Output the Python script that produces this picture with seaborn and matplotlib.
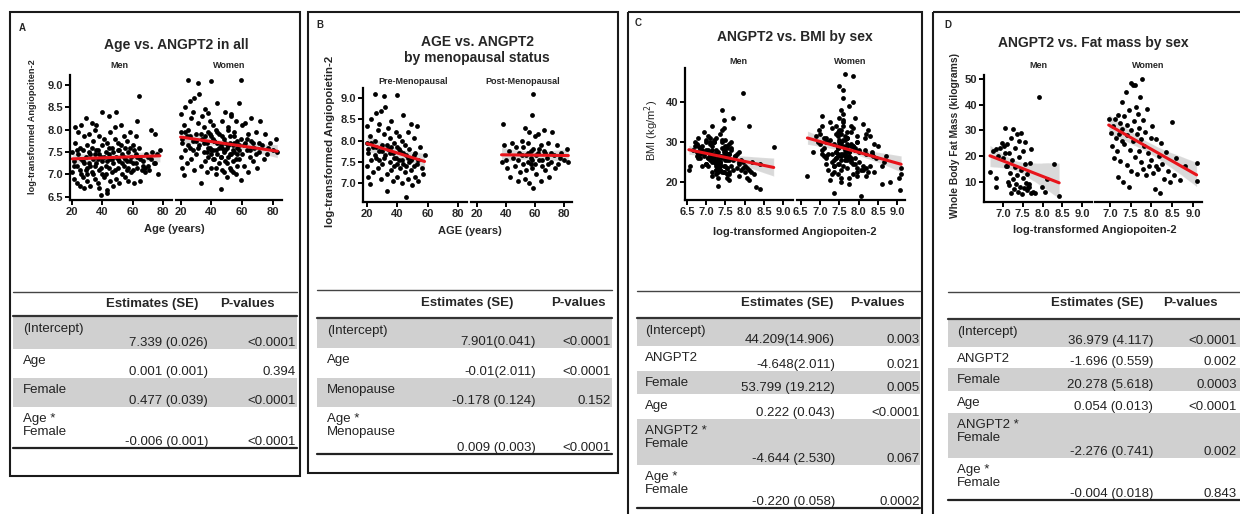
import matplotlib
matplotlib.use("Agg")
import matplotlib.pyplot as plt
from matplotlib.patches import Rectangle
import numpy as np
import seaborn as sns

# ---- data ----
men_age = [20, 20, 21, 21, 22, 22, 23, 23, 24, 24,
           25, 25, 25, 26, 26, 27, 27, 28, 28, 28,
           29, 29, 30, 30, 30, 30, 31, 31, 32, 32,
           33, 33, 33, 34, 34, 35, 35, 35, 36, 36,
           37, 37, 38, 38, 38, 39, 39, 40, 40, 40,
           40, 41, 41, 42, 42, 43, 43, 43, 44, 44,
           44, 45, 45, 45, 46, 46, 47, 47, 48, 48,
           49, 49, 49, 50, 50, 50, 51, 51, 52, 52,
           53, 53, 54, 54, 55, 55, 55, 56, 56, 57,
           57, 58, 58, 59, 59, 60, 60, 61, 61, 62,
           62, 63, 63, 64, 64, 65, 65, 66, 67, 67,
           68, 68, 69, 70, 70, 71, 72, 72, 73, 74,
           75, 75, 76, 77, 78,
           21, 23, 26, 27, 29, 31, 32, 34, 35, 36,
           37, 38, 39, 41, 42, 43, 44, 46, 47, 48,
           50, 51, 53, 54, 56, 57, 58, 60, 62, 63]
men_ang2 = [7.50, 7.05, 7.30, 6.90, 7.70, 8.05, 7.20, 6.80, 7.45, 7.95,
            7.10, 7.60, 6.75, 7.35, 8.10, 6.95, 7.55, 7.25, 7.85, 6.70,
            7.40, 8.25, 7.15, 7.65, 6.85, 7.00, 7.50, 7.90, 7.20, 6.75,
            7.60, 8.15, 7.05, 7.35, 7.75, 6.90, 7.45, 8.00, 7.25, 8.10,
            6.80, 7.55, 7.10, 6.70, 7.85, 6.55, 7.40, 8.40, 7.00, 7.65,
            7.30, 6.95, 7.80, 7.20, 7.50, 6.58, 6.65, 7.70, 8.30, 7.15,
            7.45, 6.85, 7.95, 7.35, 7.60, 7.05, 7.25, 6.75, 7.80, 8.05,
            8.40, 7.40, 6.90, 7.55, 7.15, 7.70, 7.30, 6.80, 7.65, 8.10,
            7.00, 7.45, 7.85, 7.20, 6.95, 7.60, 7.35, 7.75, 7.10, 7.50,
            6.85, 7.30, 7.95, 7.40, 7.05, 7.65, 7.25, 7.55, 6.80, 7.45,
            7.85, 7.15, 8.20, 8.75, 7.60, 7.35, 6.85, 7.10, 7.30, 7.20,
            7.05, 7.15, 7.45, 7.20, 7.40, 7.10, 8.00, 7.35, 7.50, 7.25,
            7.90, 7.25, 7.45, 7.00, 7.55,
            7.20, 7.55, 7.00, 7.30, 7.10, 7.25, 7.45, 7.00, 7.20, 7.55,
            7.35, 7.45, 7.15, 7.40, 7.00, 7.30, 7.60, 7.35, 7.50, 7.10,
            7.35, 7.55, 7.25, 7.40, 7.30, 7.15, 7.60, 7.10, 7.25, 7.40]
men_bmi = [27.5, 24.0, 25.5, 28.0, 23.0, 21.0, 30.0, 27.0, 22.5, 25.0,
           31.0, 27.0, 29.5, 24.5, 23.0, 26.5, 29.0, 22.0, 27.5, 29.0,
           33.0, 22.0, 26.0, 24.0, 28.5, 30.0, 30.5, 25.5, 27.0, 27.5,
           22.5, 22.5, 31.5, 25.0, 26.5, 24.0, 35.5, 24.0, 23.0, 34.0,
           29.0, 21.0, 26.5, 30.0, 24.5, 23.0, 38.0, 18.3, 28.0, 28.5,
           19.0, 27.0, 23.5, 30.5, 25.5, 24.0, 28.0, 36.0, 18.8, 22.5,
           33.5, 26.0, 23.5, 24.0, 20.5, 28.0, 31.0, 26.5, 27.0, 23.5,
           24.5, 26.5, 29.0, 22.0, 34.0, 25.5, 27.5, 31.0, 30.0, 20.5,
           24.5, 28.5, 21.5, 25.0, 32.5, 27.0, 23.0, 26.5, 29.5, 24.0,
           27.0, 22.5, 42.3, 30.0, 26.0, 28.0, 24.5, 23.5, 26.0, 27.5,
           25.0, 29.0, 25.0, 28.8, 22.0, 26.5, 28.5, 27.0, 23.0, 30.0,
           26.0, 21.5, 28.0, 25.5, 22.5, 27.0, 22.5, 24.0, 29.0, 25.0,
           23.0, 23.0, 26.5, 24.5, 25.5,
           26.0, 28.5, 27.5, 23.5, 25.5, 28.0, 24.0, 30.5, 26.5, 27.0,
           32.0, 22.5, 25.0, 28.5, 24.5, 26.0, 29.5, 23.0, 27.5, 30.0,
           25.0, 23.5, 27.0, 30.5, 21.0, 28.0, 25.5, 27.5, 24.0, 26.0]

pre_age = [20, 20, 20, 21, 21, 22, 22, 23, 23, 24,
           24, 25, 25, 26, 26, 27, 27, 28, 28, 29,
           29, 30, 30, 31, 31, 32, 32, 33, 33, 34,
           34, 35, 35, 36, 36, 37, 37, 38, 38, 39,
           39, 40, 40, 40, 41, 41, 42, 42, 43, 43,
           44, 44, 45, 45, 46, 46, 47, 47, 48, 48,
           49, 49, 50, 50, 51, 51, 52, 52, 53, 54,
           54, 55, 56, 57, 58,
           21, 23, 25, 26, 28, 30, 31, 33, 35, 36,
           38, 40, 41, 43, 44, 46, 47, 49, 51, 53]
pre_ang2 = [7.95, 7.40, 8.35, 7.70, 7.15, 6.98, 8.10, 7.55, 8.50, 7.85,
            7.25, 9.10, 8.00, 7.60, 8.65, 7.35, 8.25, 7.75, 8.40, 8.70,
            7.10, 7.90, 7.45, 9.05, 8.15, 8.80, 7.65, 7.20, 6.82, 8.30,
            7.80, 7.50, 8.05, 7.30, 8.45, 7.70, 7.05, 7.95, 7.40, 8.20,
            7.60, 9.08, 7.85, 7.15, 7.55, 8.10, 7.35, 7.75, 7.00, 8.00,
            8.60, 7.45, 7.25, 7.90, 6.67, 7.65, 7.10, 8.20, 7.50, 7.80,
            7.30, 8.40, 7.60, 6.95, 8.05, 7.40, 7.70, 7.15, 8.35, 7.55,
            7.05, 7.85, 7.35, 7.20, 7.65,
            7.80, 7.95, 7.65, 7.85, 7.55, 7.75, 7.60, 7.90, 7.70, 7.85,
            7.60, 7.45, 7.80, 7.55, 7.70, 7.40, 7.60, 7.55, 7.65, 7.45]
pre_bmi = [30.0, 34.0, 27.0, 32.5, 26.0, 33.0, 24.0, 38.0, 29.0, 22.0,
           35.0, 23.5, 27.5, 41.0, 25.0, 29.5, 33.0, 19.5, 22.5, 26.5,
           31.0, 36.0, 24.5, 21.0, 28.0, 20.0, 30.5, 27.0, 27.5, 31.5,
           25.5, 44.0, 23.0, 33.5, 26.0, 29.0, 36.5, 21.5, 27.5, 32.0,
           24.0, 18.0, 46.5, 30.0, 26.5, 34.5, 22.5, 39.0, 32.0, 28.0,
           24.0, 31.5, 20.5, 26.0, 21.5, 47.0, 28.5, 23.5, 33.0, 25.0,
           27.0, 29.5, 37.0, 30.0, 16.6, 26.0, 31.0, 24.5, 27.5, 21.0,
           34.0, 29.0, 25.5, 23.0, 28.0,
           29.0, 31.5, 27.0, 33.5, 30.0, 26.5, 35.0, 28.0, 31.0, 24.5,
           30.5, 28.5, 32.5, 25.5, 29.5, 27.5, 34.0, 30.0, 26.5, 29.0]

post_age = [37, 38, 39, 40, 41, 42, 43, 44, 45, 46,
            47, 48, 49, 50, 51, 52, 52, 53, 53, 54,
            54, 55, 55, 56, 56, 57, 57, 58, 58, 59,
            59, 59, 60, 60, 61, 62, 62, 63, 64, 64,
            65, 66, 66, 67, 68, 69, 70, 71, 72, 73,
            74, 75, 76, 78, 80, 82, 83,
            48, 51, 55, 57, 58, 61, 63, 65, 67, 69, 71, 77]
post_ang2 = [7.50, 8.38, 7.90, 7.55, 7.35, 7.75, 7.15, 7.95, 7.60, 7.40,
             7.85, 7.05, 7.70, 7.25, 8.00, 7.45, 7.85, 7.10, 8.30, 7.65,
             7.30, 7.95, 7.50, 8.20, 7.00, 7.60, 7.75, 8.60, 7.35, 9.10,
             6.88, 7.80, 7.45, 8.10, 7.20, 7.70, 8.15, 7.55, 7.05, 7.90,
             7.40, 7.75, 8.25, 7.30, 7.60, 7.95, 7.15, 7.50, 8.20, 7.65,
             7.35, 7.90, 7.45, 7.70, 7.55, 7.80, 7.50,
             7.55, 7.65, 7.70, 7.45, 7.55, 7.65, 7.80, 7.55, 7.70, 7.45, 7.70, 7.60]
post_bmi = [30.0, 26.5, 28.0, 33.0, 24.0, 27.5, 31.0, 22.5, 35.5, 26.0,
            29.0, 27.0, 23.5, 30.5, 25.0, 32.5, 40.0, 26.5, 24.0, 28.5,
            22.0, 30.0, 36.0, 27.0, 29.5, 43.0, 21.0, 19.5, 17.2, 22.0,
            31.5, 34.0, 27.0, 23.0, 30.0, 26.0, 31.0, 20.0, 28.0, 24.5,
            32.0, 27.5, 22.5, 25.0, 29.0, 23.5, 26.5, 30.5, 21.5, 27.0,
            24.0, 28.5, 22.0, 25.5, 23.0, 26.0, 24.5,
            29.0, 31.5, 26.0, 28.5, 32.0, 25.5, 29.5, 27.0, 31.0, 26.5, 28.0, 27.0]

fm_men_ang2 = [6.67, 6.75, 6.82, 6.82, 6.82, 6.88, 6.92, 6.97, 7.00, 7.02,
               7.05, 7.05, 7.08, 7.10, 7.10, 7.12, 7.15, 7.15, 7.18, 7.20,
               7.20, 7.22, 7.25, 7.25, 7.28, 7.30, 7.30, 7.32, 7.35, 7.35,
               7.38, 7.40, 7.40, 7.42, 7.45, 7.45, 7.48, 7.50, 7.50, 7.52,
               7.55, 7.55, 7.58, 7.60, 7.60, 7.62, 7.65, 7.65, 7.68, 7.70,
               7.72, 7.75, 7.80, 7.92, 7.98, 8.06, 8.10, 8.30, 8.42]
fm_men_fat = [13.6, 22.0, 22.6, 11.4, 8.0, 20.0, 23.0, 25.2, 19.0, 24.0,
              21.0, 31.0, 16.0, 16.0, 24.5, 10.0, 21.0, 8.5, 13.5, 27.0,
              5.5, 18.5, 11.0, 30.7, 7.0, 15.5, 23.0, 9.0, 28.6, 12.5,
              6.0, 19.5, 26.0, 8.0, 14.5, 29.0, 5.0, 11.5, 22.0, 7.5,
              17.0, 25.5, 9.5, 6.5, 13.0, 8.0, 8.0, 9.0, 17.3, 5.5,
              22.7, 6.0, 5.5, 43.0, 8.0, 6.0, 11.0, 17.0, 4.2]
fm_women_ang2 = [6.97, 7.02, 7.05, 7.08, 7.10, 7.12, 7.15, 7.18, 7.20, 7.20,
                 7.22, 7.25, 7.25, 7.28, 7.30, 7.30, 7.32, 7.35, 7.35, 7.38,
                 7.40, 7.40, 7.42, 7.45, 7.45, 7.48, 7.50, 7.50, 7.52, 7.55,
                 7.55, 7.58, 7.60, 7.60, 7.62, 7.65, 7.65, 7.68, 7.70, 7.70,
                 7.72, 7.75, 7.75, 7.78, 7.80, 7.80, 7.82, 7.85, 7.88, 7.90,
                 7.92, 7.95, 7.98, 8.00, 8.02, 8.05, 8.08, 8.10, 8.12, 8.15,
                 8.18, 8.20, 8.22, 8.25, 8.30, 8.35, 8.40, 8.45, 8.49, 8.55,
                 8.60, 8.70, 8.80, 9.09, 9.09]
fm_women_fat = [34.5, 29.0, 24.0, 31.5, 19.0, 34.5, 27.0, 22.0, 11.7, 36.0,
                28.5, 33.0, 18.0, 26.0, 41.0, 30.5, 10.0, 35.5, 24.5, 45.0,
                28.0, 16.5, 32.0, 7.9, 38.0, 22.5, 30.0, 14.0, 48.5, 47.5,
                26.0, 33.5, 47.6, 19.5, 39.0, 28.5, 13.0, 36.5, 22.0, 31.0,
                43.0, 17.5, 26.5, 49.9, 34.0, 15.0, 24.0, 29.5, 12.5, 38.5,
                21.0, 16.0, 27.0, 18.5, 31.5, 13.5, 7.2, 16.0, 26.5, 15.0,
                20.0, 5.7, 25.0, 17.0, 11.0, 21.5, 14.0, 10.0, 33.1, 12.5,
                19.0, 10.5, 16.0, 17.3, 10.3]

age_ticks = [20, 40, 60, 80]
ang_y_ticks_a = [6.5, 7.0, 7.5, 8.0, 8.5, 9.0]
ang_y_ticks_b = [7.0, 7.5, 8.0, 8.5, 9.0]
ang_x_ticks_c = [6.5, 7.0, 7.5, 8.0, 8.5, 9.0]
ang_x_ticks_d = [7.0, 7.5, 8.0, 8.5, 9.0]
bmi_ticks = [20, 30, 40]
fat_ticks = [10, 20, 30, 40, 50]

a_terms = ["(Intercept)", "Age", "Female", "Age *\nFemale"]
a_est = ["7.339 (0.026)", "0.001 (0.001)", "0.477 (0.039)", "-0.006 (0.001)"]
a_p = ["<0.0001", "0.394", "<0.0001", "<0.0001"]
b_terms = ["(Intercept)", "Age", "Menopause", "Age *\nMenopause"]
b_est = ["7.901(0.041)", "-0.01(2.011)", "-0.178 (0.124)", "0.009 (0.003)"]
b_p = ["<0.0001", "<0.0001", "0.152", "<0.0001"]
c_terms = ["(Intercept)", "ANGPT2", "Female", "Age", "ANGPT2 *\nFemale", "Age *\nFemale"]
c_est = ["44.209(14.906)", "-4.648(2.011)", "53.799 (19.212)", "0.222 (0.043)",
         "-4.644 (2.530)", "-0.220 (0.058)"]
c_p = ["0.003", "0.021", "0.005", "<0.0001", "0.067", "0.0002"]
d_terms = ["(Intercept)", "ANGPT2", "Female", "Age", "ANGPT2 *\nFemale", "Age *\nFemale"]
d_est = ["36.979 (4.117)", "-1.696 (0.559)", "20.278 (5.618)", "0.054 (0.013)",
         "-2.276 (0.741)", "-0.004 (0.018)"]
d_p = ["<0.0001", "0.002", "0.0003", "<0.0001", "0.002", "0.843"]

women_age = pre_age + post_age
women_ang2 = pre_ang2 + post_ang2
women_bmi = pre_bmi + post_bmi

# ---- figure ----
sns.set_style("ticks")
plt.rcParams["font.family"] = ["Liberation Sans", "DejaVu Sans"]

W, H = 1240, 514
fig = plt.figure(figsize=(W / 100, H / 100), dpi=100)

# pixel overlay for boxes, titles and tables
ov = fig.add_axes([0, 0, 1, 1], zorder=-1)
ov.set_xlim(0, W)
ov.set_ylim(H, 0)
ov.axis("off")


def px_axes(l, t, r, b):
    return fig.add_axes([l / W, 1 - b / H, (r - l) / W, (b - t) / H])


def scatter_fit(ax, x, y, xlim, ylim, xticks, xfmt, yticks=None, yfmt=None):
    x = np.asarray(x, float)
    y = np.asarray(y, float)
    sns.regplot(x=x, y=y, ax=ax, scatter=False, color="black", ci=95, seed=3,
                line_kws={"lw": 0})
    sns.regplot(x=x, y=y, ax=ax, ci=None, color="black",
                scatter_kws={"s": 12, "linewidths": 0, "alpha": 1},
                line_kws={"color": "#e8141b", "lw": 2.2})
    ax.set_xlim(*xlim)
    ax.set_ylim(*ylim)
    ax.set_xticks(xticks, [xfmt.format(v) for v in xticks])
    if yticks is not None:
        ax.set_yticks(yticks, [yfmt.format(v) for v in yticks])
        sns.despine(ax=ax)
    else:
        sns.despine(ax=ax, left=True)
        ax.tick_params(axis="y", left=False, labelleft=False)
    for s in ["left", "bottom"]:
        ax.spines[s].set_linewidth(1.6)
        ax.spines[s].set_color("black")
    ax.tick_params(width=1.4, length=3.5, labelsize=8, pad=1.5, color="black")
    plt.setp(ax.get_xticklabels() + ax.get_yticklabels(), fontweight="bold")
    ax.set_xlabel("")
    ax.set_ylabel("")
    ax.patch.set_alpha(0)


def panel_box(l, t, r, b):
    ov.add_patch(Rectangle((l, t), r - l, b - t, fill=False, lw=1.5, ec="#1a1a1a"))


def draw_table(x0, x1, y_top, y_head, y_hline, edges, terms, est, pv, xs):
    lab_x, est_r, p_r, head_e, head_p = xs
    ov.plot([x0, x1], [y_top, y_top], color="#444444", lw=1.0)
    ov.text(head_e, y_head, "Estimates (SE)", ha="center", va="center",
            fontsize=9.5, fontweight="bold")
    ov.text(head_p, y_head, "P-values", ha="center", va="center",
            fontsize=9.5, fontweight="bold")
    ov.plot([x0, x1], [y_hline, y_hline], color="#333333", lw=1.6)
    for i in range(len(terms)):
        t, b = edges[i], edges[i + 1]
        if i % 2 == 0:
            ov.add_patch(Rectangle((x0, t), x1 - x0, b - t, color="#d0d0d0", lw=0))
        ov.text(lab_x, t + 6, terms[i], ha="left", va="top", fontsize=9.5,
                linespacing=1.15, color="#222222")
        ov.text(est_r, b - 3, est[i], ha="right", va="baseline", fontsize=9.5,
                color="#222222")
        ov.text(p_r, b - 3, pv[i], ha="right", va="baseline", fontsize=9.5,
                color="#222222")
    ov.plot([x0, x1], [edges[-1], edges[-1]], color="#222222", lw=1.6)


# panel frames
panel_box(10, 12, 300, 476)
panel_box(308, 12, 618, 473)
panel_box(628, 12, 922, 540)
panel_box(933, 12, 1270, 540)

# ---- A ----
ov.text(22, 28, "A", fontsize=7, fontweight="bold", ha="center", va="center")
ov.text(176, 45, "Age vs. ANGPT2 in all", fontsize=10, fontweight="bold",
        ha="center", va="center")
ov.text(119, 66, "Men", fontsize=6.5, fontweight="bold", ha="center", va="center")
ov.text(229, 66, "Women", fontsize=6.5, fontweight="bold", ha="center", va="center")
ov.text(33, 127, "log-transformed Angiopoiten-2", fontsize=6.6, fontweight="bold",
        rotation=90, ha="center", va="center")
ov.text(174, 229, "Age (years)", fontsize=8, fontweight="bold", ha="center", va="center")
ax = px_axes(70, 75, 172, 200)
scatter_fit(ax, men_age, men_ang2, (18.5, 86), (6.43, 9.22), age_ticks, "{:d}",
            ang_y_ticks_a, "{:.1f}")
ax = px_axes(176, 75, 282, 200)
scatter_fit(ax, women_age, women_ang2, (17, 86), (6.43, 9.22), age_ticks, "{:d}")
draw_table(13, 297, 292, 304, 316, [317, 349, 378, 407, 448],
           a_terms, a_est, a_p, (23, 208, 296, 152, 247))

# ---- B ----
ov.text(320, 25, "B", fontsize=7, fontweight="bold", ha="center", va="center")
ov.text(477, 50, "AGE vs. ANGPT2\nby menopausal status", fontsize=10,
        fontweight="bold", ha="center", va="center", linespacing=1.1)
ov.text(413, 82, "Pre-Menopausal", fontsize=6.5, fontweight="bold", ha="center", va="center")
ov.text(523, 82, "Post-Menopausal", fontsize=6.5, fontweight="bold", ha="center", va="center")
ov.text(330, 141, "log-transformed Angiopoietin-2", fontsize=8.2, fontweight="bold",
        rotation=90, ha="center", va="center")
ov.text(470, 231, "AGE (years)", fontsize=8, fontweight="bold", ha="center", va="center")
ax = px_axes(363, 88, 467, 202)
scatter_fit(ax, pre_age, pre_ang2, (17.4, 86), (6.55, 9.24), age_ticks, "{:d}",
            ang_y_ticks_b, "{:.1f}")
ax = px_axes(471, 88, 572, 202)
scatter_fit(ax, post_age, post_ang2, (16, 85.5), (6.55, 9.24), age_ticks, "{:d}")
draw_table(317, 612, 290, 303, 318, [319, 348, 378, 407, 454],
           b_terms, b_est, b_p, (327, 536, 611, 467, 578))

# ---- C ----
ov.text(638, 23, "C", fontsize=7, fontweight="bold", ha="center", va="center")
ov.text(795, 37, "ANGPT2 vs. BMI by sex", fontsize=10, fontweight="bold",
        ha="center", va="center")
ov.text(738, 62, "Men", fontsize=6.5, fontweight="bold", ha="center", va="center")
ov.text(850, 62, "Women", fontsize=6.5, fontweight="bold", ha="center", va="center")
ov.text(652, 130, "BMI (kg/m$^2$)", fontsize=8, rotation=90, ha="center", va="center")
ov.text(795, 232, "log-transformed Angiopoiten-2", fontsize=8, fontweight="bold",
        ha="center", va="center")
ax = px_axes(685, 68, 793, 200)
scatter_fit(ax, men_ang2, men_bmi, (6.45, 9.25), (15.5, 48.5), ang_x_ticks_c, "{:.1f}",
            bmi_ticks, "{:d}")
ax = px_axes(797, 68, 905, 200)
scatter_fit(ax, women_ang2, women_bmi, (6.4, 9.2), (15.5, 48.5), ang_x_ticks_c, "{:.1f}")
draw_table(637, 920, 291, 303, 318, [319, 346, 371, 394, 419, 465, 508],
           c_terms, c_est, c_p, (645, 835, 920, 787, 877))

# ---- D ----
ov.text(948, 25, "D", fontsize=7, fontweight="bold", ha="center", va="center")
ov.text(1093, 43, "ANGPT2 vs. Fat mass by sex", fontsize=10, fontweight="bold",
        ha="center", va="center")
ov.text(1038, 66, "Men", fontsize=6.5, fontweight="bold", ha="center", va="center")
ov.text(1148, 66, "Women", fontsize=6.5, fontweight="bold", ha="center", va="center")
ov.text(955, 136, "Whole Body Fat Mass (kilograms)", fontsize=7.4, fontweight="bold",
        rotation=90, ha="center", va="center")
ov.text(1095, 230, "log-transformed Angiopoiten-2", fontsize=8, fontweight="bold",
        ha="center", va="center")
ax = px_axes(984, 75, 1092, 202)
scatter_fit(ax, fm_men_ang2, fm_men_fat, (6.52, 9.25), (2, 51.6), ang_x_ticks_d, "{:.1f}",
            fat_ticks, "{:d}")
ax = px_axes(1095, 75, 1202, 202)
scatter_fit(ax, fm_women_ang2, fm_women_fat, (6.64, 9.22), (2, 51.6), ang_x_ticks_d, "{:.1f}")
draw_table(948, 1245, 292, 303, 319, [320, 347, 368, 391, 413, 458, 500],
           d_terms, d_est, d_p, (957, 1153, 1237, 1097, 1190))

fig.savefig("out.png", dpi=100)
